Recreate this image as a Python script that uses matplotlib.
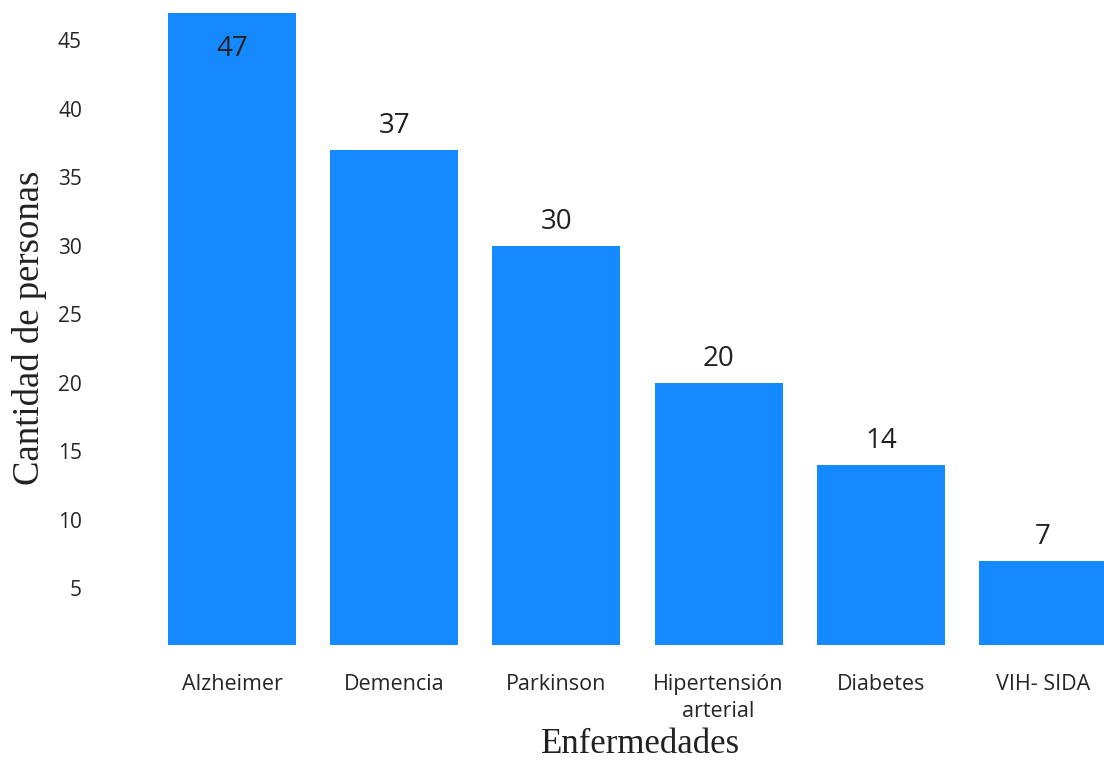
import matplotlib.pyplot as plt

enfermedades = ['Alzheimer', 'Demencia', 'Parkinson', 'Hipertensión\narterial', 'Diabetes', 'VIH- SIDA']
personas = [47, 37, 30, 20, 14, 7]
yticks = [5, 10, 15, 20, 25, 30, 35, 40, 45]

bar_color = '#1589ff'
sans = ['Open Sans', 'DejaVu Sans']
serif = ['Liberation Serif', 'DejaVu Serif']

fig = plt.figure(figsize=(11.04, 7.63), dpi=100)
ax = fig.add_axes([100 / 1104, 118 / 763, 1004 / 1104, 632 / 763])

x = list(range(len(enfermedades)))
bars = ax.bar(x, personas, width=0.79, color=bar_color, zorder=2)

ax.set_xlim(-0.814, 5.376)
ax.set_ylim(0.87, 47)

# value labels: above the bar, inside when it would run off the top
for i, v in zip(x, personas):
    if v == max(personas):
        ax.annotate(str(v), (i, v), xytext=(0, -16), textcoords='offset points',
                    ha='center', va='top', fontsize=20, color='#222222', family=sans)
    else:
        ax.annotate(str(v), (i, v), xytext=(0, 7), textcoords='offset points',
                    ha='center', va='bottom', fontsize=20, color='#222222', family=sans)

ax.set_xticks(x)
ax.set_xticklabels(enfermedades, fontsize=15.5, color='#252525', family=sans, linespacing=1.35)
ax.set_yticks(yticks)
ax.set_yticklabels([str(t) for t in yticks], fontsize=15, color='#252525', family=sans)
ax.tick_params(axis='both', length=0)
ax.tick_params(axis='x', pad=21)
ax.tick_params(axis='y', pad=13)
for s in ax.spines.values():
    s.set_visible(False)

fig.text(30 / 1104, 1 - 328 / 763, 'Cantidad de personas', rotation=90,
         ha='center', va='center', fontsize=26.5, color='#222222', family=serif)
fig.text(640 / 1104, 2 / 763, 'Enfermedades', ha='center', va='bottom',
         fontsize=25, color='#222222', family=serif)

fig.savefig('out.png', dpi=100)
